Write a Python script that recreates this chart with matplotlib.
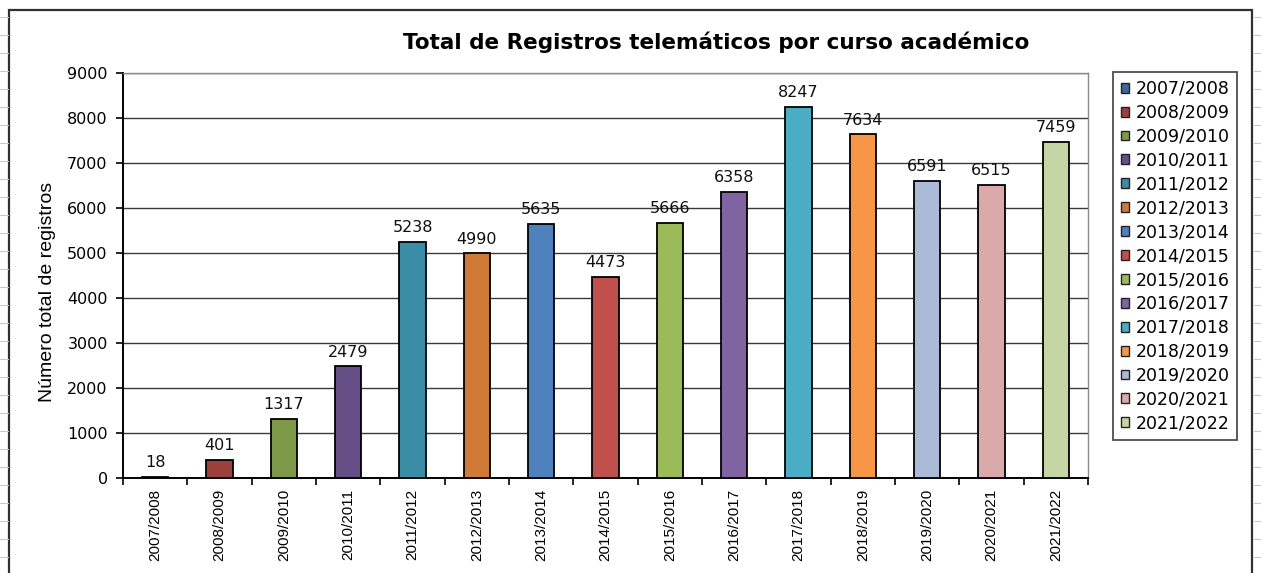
import matplotlib.pyplot as plt
from matplotlib.lines import Line2D
from matplotlib.patches import Rectangle, Patch

# === Datos ===
cursos = ["2007/2008", "2008/2009", "2009/2010", "2010/2011", "2011/2012",
          "2012/2013", "2013/2014", "2014/2015", "2015/2016", "2016/2017",
          "2017/2018", "2018/2019", "2019/2020", "2020/2021", "2021/2022"]
registros = [18, 401, 1317, 2479, 5238, 4990, 5635, 4473, 5666, 6358,
             8247, 7634, 6591, 6515, 7459]
colores = ["#3F6799", "#9C403E", "#7E9A48", "#664F86", "#3B8CA5",
           "#D07A38", "#4F81BD", "#C0504D", "#9BBB59", "#8064A2",
           "#4BACC6", "#F79646", "#AABAD7", "#D9AAA9", "#C5D6A4"]
yticks = list(range(0, 9001, 1000))

W, H = 1261, 573
fig = plt.figure(figsize=(W / 100, H / 100), dpi=100)

# fondo de hoja de cálculo: filas asomando por los lados
for yy in range(17, H, 18):
    fig.add_artist(Line2D([0, 8 / W], [1 - yy / H] * 2, color="#c8c8c8", lw=0.8))
    fig.add_artist(Line2D([1254 / W, 1], [1 - yy / H] * 2, color="#c8c8c8", lw=0.8))

# marco del gráfico
fig.add_artist(Rectangle((9 / W, -0.05), (1252 - 9) / W, 1.05 - 10 / H,
                         transform=fig.transFigure, fill=False,
                         edgecolor="#303030", lw=1.6))

ax = fig.add_axes([123 / W, 1 - 478 / H, (1088 - 123) / W, (478 - 73) / H])
x = range(len(cursos))
bars = ax.bar(x, registros, width=0.41, color=colores, edgecolor="black",
              linewidth=1.3, zorder=3)

for xi, v in zip(x, registros):
    ax.annotate(str(v), (xi, v), xytext=(0, 5), textcoords="offset points",
                ha="center", va="bottom", fontsize=11.5, family="DejaVu Sans",
                color="#111111")

ax.set_xlim(-0.5, len(cursos) - 0.5)
ax.set_ylim(0, 9000)
ax.set_yticks(yticks)
ax.set_yticklabels([str(t) for t in yticks], fontsize=11.5, family="DejaVu Sans")
ax.yaxis.grid(True, color="#3a3a3a", lw=1.0, zorder=1)
ax.set_xticks([i + 0.5 for i in range(-1, len(cursos))], minor=False)
ax.set_xticklabels([])
ax.set_xticks(list(x), minor=True)
ax.set_xticklabels(cursos, minor=True, rotation=90, fontsize=11,
                   family="Liberation Sans")
ax.tick_params(axis="x", which="major", direction="out", length=5, width=1.2)
ax.tick_params(axis="x", which="minor", length=0, pad=8)
ax.tick_params(axis="y", direction="out", length=5, width=1.2, pad=6)

for s in ["top", "right"]:
    ax.spines[s].set_color("#8a8a8a")
    ax.spines[s].set_linewidth(1.0)
for s in ["left", "bottom"]:
    ax.spines[s].set_color("black")
    ax.spines[s].set_linewidth(1.4)

ax.set_ylabel("Número total de registros", fontsize=14, family="Liberation Sans")
ax.yaxis.set_label_coords(-0.069, 0.46)

fig.text(716 / W, 1 - 42 / H, "Total de Registros telemáticos por curso académico",
         ha="center", va="center", fontsize=15.5, fontweight="bold",
         family="DejaVu Sans")

handles = [Patch(facecolor=c, edgecolor="#222222", lw=1.0) for c in colores]
leg = fig.legend(handles, cursos, loc="upper left",
                 bbox_to_anchor=(1113 / W, 1 - 72 / H),
                 prop={"family": "DejaVu Sans", "size": 12.5},
                 frameon=True, fancybox=False, handlelength=0.5,
                 handleheight=0.5, handletextpad=0.35, labelspacing=0.34,
                 borderpad=0.45, borderaxespad=0)
leg.get_frame().set_edgecolor("#222222")
leg.get_frame().set_linewidth(1.3)

fig.savefig("out.png", dpi=100)
